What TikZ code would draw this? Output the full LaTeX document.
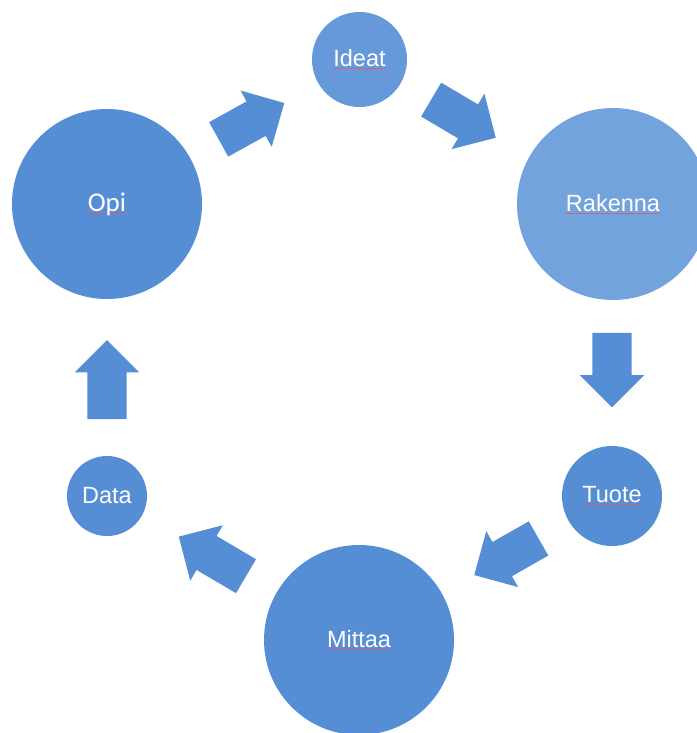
\documentclass[tikz,border=0pt]{standalone}
\usepackage{fontspec}
\setmainfont{Liberation Sans}
\newfontfamily\calibrilike{Carlito}
\usetikzlibrary{shapes.arrows}

\definecolor{cycleblue}{RGB}{85,142,213}
\definecolor{ideablue}{RGB}{102,153,218}
\definecolor{buildblue}{RGB}{114,163,221}
\definecolor{spellred}{RGB}{206,98,122}

% proofing mark under a word
\newcommand\proofmark[1]{\leavevmode\setbox0\hbox{#1}%
  \rlap{\textcolor{spellred}{\rule[-2.6pt]{\wd0}{1.1pt}}}\box0}

\tikzset{
  stage/.style={circle, draw=none, fill=cycleblue, inner sep=0pt,
    text=white, font=\fontsize{23.5}{28}\selectfont},
  flow/.style={single arrow, draw=none, fill=cycleblue, anchor=tail,
    text height=0pt, text depth=0pt, inner xsep=0pt, inner ysep=19.5pt,
    minimum width=0pt, single arrow head extend=12.5pt,
    single arrow tip angle=90, single arrow head indent=0pt}
}

\begin{document}
\begin{tikzpicture}[x=1pt, y=-1pt]
  \useasboundingbox (0,0) rectangle (696,733);

  % stages of the cycle
  \node[stage, fill=ideablue, minimum size=95pt]  (ideat)   at (359.5,59.5) {\proofmark{Ideat}};
  \node[stage, fill=buildblue, minimum size=192pt] (rakenna) at (613,204)   {\proofmark{Rakenna}};
  \node[stage, minimum size=100pt] (tuote)  at (612,496) {\proofmark{Tuote}};
  \node[stage, minimum size=190pt] (mittaa) at (359,640) {\proofmark{Mittaa}};
  \node[stage, minimum size=80pt]  (data)   at (107,496) {Data};
  \node[stage, minimum size=190pt, font=\calibrilike\fontsize{27}{30}\selectfont]
        (opi) at (107,204) {\proofmark{Opi}};

  % block arrows between the stages, placed by their tails
  \node[flow, minimum height=75pt, rotate=29]    (a1) at (218.5,139.5) {};
  \node[flow, minimum height=75pt, rotate=-30.6] (a2) at (431,99.5) {};
  \node[flow, minimum height=74.5pt, rotate=-90] (a3) at (612,332.7) {};
  \node[flow, minimum height=74pt, rotate=209.7] (a4) at (538.7,538.3) {};
  \node[flow, minimum height=78pt, rotate=149.5] (a5) at (246.2,576.3) {};
  \node[flow, minimum height=79pt, rotate=90]    (a6) at (107,419.3) {};
\end{tikzpicture}
\end{document}
